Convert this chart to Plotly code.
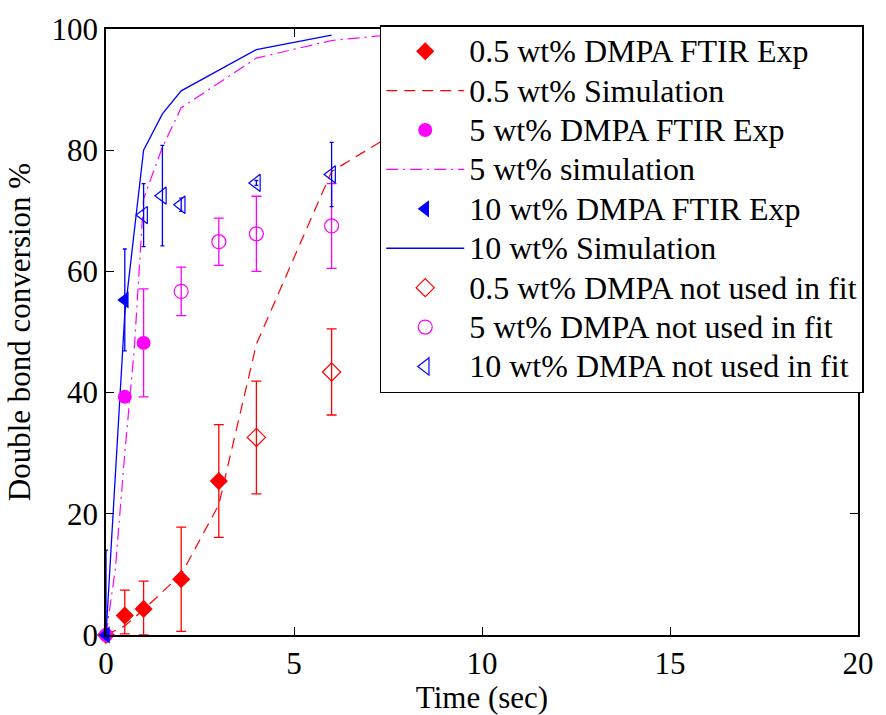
import plotly.graph_objects as go

# ---- data ----
red_exp_x = [0, 0.5, 1, 2, 3]
red_exp_y = [0, 3.2, 4.3, 9.2, 25.4]
red_exp_err_plus = [0, 4.2, 4.6, 8.6, 9.3]
red_exp_err_minus = [0, 3.0, 4.3, 8.6, 9.3]

red_sim_x = [0, 0.5, 1, 2, 3, 4, 6, 8]
red_sim_y = [0, 1.5, 4.2, 10, 21.5, 48, 76.5, 84]

mag_exp_x = [0, 0.5, 1]
mag_exp_y = [0, 39.3, 48.2]
mag_exp_err = [0, 0, 8.9]

mag_sim_x = [0, 0.25, 0.5, 0.75, 1, 1.5, 2, 4, 6, 8]
mag_sim_y = [0, 11, 30, 47, 72, 80.5, 87, 95.2, 98.1, 99.3]

blue_exp_x = [0, 0.5]
blue_exp_y = [0, 55.3]
blue_exp_err_plus = [14, 8.4]
blue_exp_err_minus = [0, 8.4]

blue_sim_x = [0, 0.5, 1, 1.5, 2, 4, 6]
blue_sim_y = [0, 53, 80, 86, 89.8, 96.6, 99]

red_nf_x = [4, 6]
red_nf_y = [32.6, 43.4]
red_nf_err = [9.3, 7.1]

mag_nf_x = [2, 3, 4, 6]
mag_nf_y = [56.7, 64.9, 66.2, 67.5]
mag_nf_err = [4.0, 3.9, 6.2, 7.0]

blue_nf_x = [1, 1.5, 2, 4, 6]
blue_nf_y = [69.3, 72.5, 71.0, 74.6, 76.0]
blue_nf_err = [5.2, 8.3, 1.1, 0.4, 5.3]

x_ticks = [0, 5, 10, 15, 20]
y_ticks = [0, 20, 40, 60, 80, 100]

legend_names = [
    "0.5 wt% DMPA FTIR Exp",
    "0.5 wt% Simulation",
    "5 wt% DMPA FTIR Exp",
    "5 wt% simulation",
    "10 wt% DMPA FTIR Exp",
    "10 wt% Simulation",
    "0.5 wt% DMPA not used in fit",
    "5 wt% DMPA not used in fit",
    "10 wt% DMPA not used in fit",
]

RED, MAG, BLUE = "#ff0000", "#ff00ff", "#0000ff"
FONT = "Liberation Serif"


def lab(s):
    return '<span style="font-size:32px">' + s + "</span>"


def err(arr, color, w, minus=None):
    d = dict(type="data", array=arr, visible=True, color=color, thickness=1.3, width=w)
    if minus is not None:
        d["symmetric"] = False
        d["arrayminus"] = minus
    return d


fig = go.Figure()

fig.add_trace(go.Scatter(x=red_sim_x, y=red_sim_y, mode="lines", name=lab(legend_names[1]),
                         line=dict(color=RED, width=1.2, dash="11px,7px"), legendrank=2))
fig.add_trace(go.Scatter(x=mag_sim_x, y=mag_sim_y, mode="lines", name=lab(legend_names[3]),
                         line=dict(color=MAG, width=1.2, dash="12px,5px,2px,5px"), legendrank=4))
fig.add_trace(go.Scatter(x=blue_sim_x, y=blue_sim_y, mode="lines", name=lab(legend_names[5]),
                         line=dict(color=BLUE, width=1.3), legendrank=6))
fig.add_trace(go.Scatter(x=red_exp_x, y=red_exp_y, mode="markers", name=lab(legend_names[0]),
                         marker=dict(symbol="diamond", size=14, color=RED), cliponaxis=False,
                         error_y=err(red_exp_err_plus, RED, 5, red_exp_err_minus), legendrank=1))
fig.add_trace(go.Scatter(x=mag_exp_x, y=mag_exp_y, mode="markers", name=lab(legend_names[2]),
                         marker=dict(symbol="circle", size=14, color=MAG), cliponaxis=False,
                         error_y=err(mag_exp_err, MAG, 5), legendrank=3))
fig.add_trace(go.Scatter(x=blue_exp_x, y=blue_exp_y, mode="markers", name=lab(legend_names[4]),
                         marker=dict(symbol="triangle-left", size=15, color=BLUE), cliponaxis=False,
                         error_y=err(blue_exp_err_plus, BLUE, 2, blue_exp_err_minus), legendrank=5))
fig.add_trace(go.Scatter(x=red_nf_x, y=red_nf_y, mode="markers", name=lab(legend_names[6]),
                         marker=dict(symbol="diamond-open", size=14, color=RED, line=dict(width=1.2)),
                         error_y=err(red_nf_err, RED, 5), legendrank=7))
fig.add_trace(go.Scatter(x=mag_nf_x, y=mag_nf_y, mode="markers", name=lab(legend_names[7]),
                         marker=dict(symbol="circle-open", size=14, color=MAG, line=dict(width=1.2)),
                         error_y=err(mag_nf_err, MAG, 5), legendrank=8))
fig.add_trace(go.Scatter(x=blue_nf_x, y=blue_nf_y, mode="markers", name=lab(legend_names[8]),
                         marker=dict(symbol="triangle-left-open", size=15, color=BLUE, line=dict(width=1.2)),
                         error_y=err(blue_nf_err, BLUE, 2), legendrank=9))

axis_common = dict(showline=True, linecolor="black", linewidth=1.5, mirror="ticks",
                   ticks="inside", ticklen=8, tickwidth=1, tickcolor="black",
                   showgrid=False, zeroline=False,
                   tickfont=dict(family=FONT, size=31, color="black"))

fig.update_layout(
    width=886, height=715,
    margin=dict(l=106, r=24, t=27, b=74),
    paper_bgcolor="white", plot_bgcolor="white",
    font=dict(family=FONT, size=31, color="black"),
    xaxis=dict(range=[0, 20], tickvals=x_ticks, **axis_common,
               title=dict(text="Time (sec)", font=dict(family=FONT, size=31), standoff=0)),
    yaxis=dict(range=[0, 100], tickvals=y_ticks, **axis_common,
               title=dict(text="Double bond conversion %", font=dict(family=FONT, size=31), standoff=12)),
    legend=dict(x=0.364, y=1.0065, xanchor="left", yanchor="top",
                bgcolor="white", bordercolor="black", borderwidth=1.5,
                font=dict(family=FONT, size=28, color="black"),
                itemwidth=78, tracegroupgap=0, traceorder="normal", maxheight=600),
    showlegend=True,
)

fig.write_html("out.html")
